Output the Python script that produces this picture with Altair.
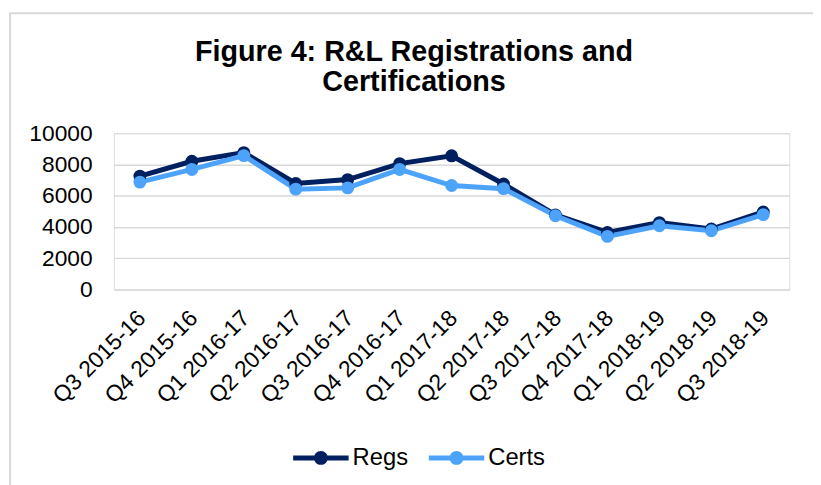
import altair as alt
import pandas as pd

quarters = ["Q3 2015-16", "Q4 2015-16", "Q1 2016-17", "Q2 2016-17", "Q3 2016-17",
            "Q4 2016-17", "Q1 2017-18", "Q2 2017-18", "Q3 2017-18", "Q4 2017-18",
            "Q1 2018-19", "Q2 2018-19", "Q3 2018-19"]
regs = [7250, 8200, 8750, 6780, 7030, 8050, 8550, 6750, 4770, 3650, 4280, 3870, 4960]
certs = [6870, 7680, 8560, 6420, 6500, 7680, 6650, 6450, 4720, 3400, 4080, 3760, 4790]
series_names = ["Regs", "Certs"]
series_colors = ["#002060", "#4DA3FA"]
y_ticks = [0, 2000, 4000, 6000, 8000, 10000]
title_lines = ["Figure 4: R&L Registrations and", "Certifications"]

rows = []
for i, q in enumerate(quarters):
    rows.append({"quarter": q, "series": "Regs", "value": regs[i], "order": 0})
    rows.append({"quarter": q, "series": "Certs", "value": certs[i], "order": 1})
df = pd.DataFrame(rows)

FONT = "Liberation Sans"

x_enc = alt.X("quarter:N", sort=quarters, title=None,
              scale=alt.Scale(paddingInner=1, paddingOuter=0.5),
              axis=alt.Axis(labelAngle=-45, labelFontSize=23, labelColor="#000000",
                            labelFont=FONT, ticks=False, domain=False, labelPadding=17,
                            labelOffset=-6, grid=False))
y_enc = alt.Y("value:Q", title=None,
              scale=alt.Scale(domain=[0, 10000], nice=False),
              axis=alt.Axis(values=y_ticks, format="d", labelFontSize=23,
                            labelColor="#000000", labelFont=FONT, ticks=False,
                            domain=False, labelPadding=22,
                            grid=True, gridColor="#D9D9D9", gridWidth=1.5))
color_scale = alt.Scale(domain=series_names, range=series_colors)

lines = alt.Chart(df).mark_line(strokeWidth=5).encode(
    x=x_enc, y=y_enc,
    color=alt.Color("series:N", scale=color_scale, legend=None),
    order=alt.Order("order:Q"),
    detail="series:N",
)

legend_path = ("M-1,-0.09H-0.22V0.09H-1Z M0.22,-0.09H1V0.09H0.22Z "
               "M0.25,0 A0.25,0.25 0 1,1 -0.25,0 A0.25,0.25 0 1,1 0.25,0 Z")

points = alt.Chart(df).mark_point(filled=True, size=170, opacity=1).encode(
    x=x_enc, y=y_enc,
    color=alt.Color("series:N", scale=color_scale, sort=series_names,
                    legend=alt.Legend(title=None, orient="none", direction="horizontal",
                                      legendX=181, legendY=300,
                                      symbolType=legend_path, symbolSize=3136,
                                      symbolStrokeWidth=0, symbolOpacity=1,
                                      labelFontSize=24, labelFont=FONT,
                                      labelColor="#000000", labelOffset=4,
                                      columnPadding=20, padding=0)),
    order=alt.Order("order:Q"),
)

one = pd.DataFrame({"a": [0]})

border = alt.Chart(one).mark_rect(
    fill=None, stroke="#D9D9D9", strokeWidth=2
).encode(x=alt.value(-105), x2=alt.value(720), y=alt.value(-121), y2=alt.value(370))

title = alt.Chart(one).mark_text(
    font=FONT, fontSize=29, fontWeight="bold", color="#000000",
    align="center", baseline="alphabetic", lineHeight=30,
).encode(x=alt.value(303), y=alt.value(-73), text=alt.value(title_lines))

chart = alt.layer(border, title, lines, points).resolve_legend(color="independent").properties(
    width=682, height=158,
    autosize=alt.AutoSizeParams(type="none"),
    padding={"left": 107, "top": 124, "right": 24, "bottom": 195},
).configure_view(stroke=None).configure(background="#FFFFFF")

chart.save("out.html", embed_options={"renderer": "svg", "actions": False})
